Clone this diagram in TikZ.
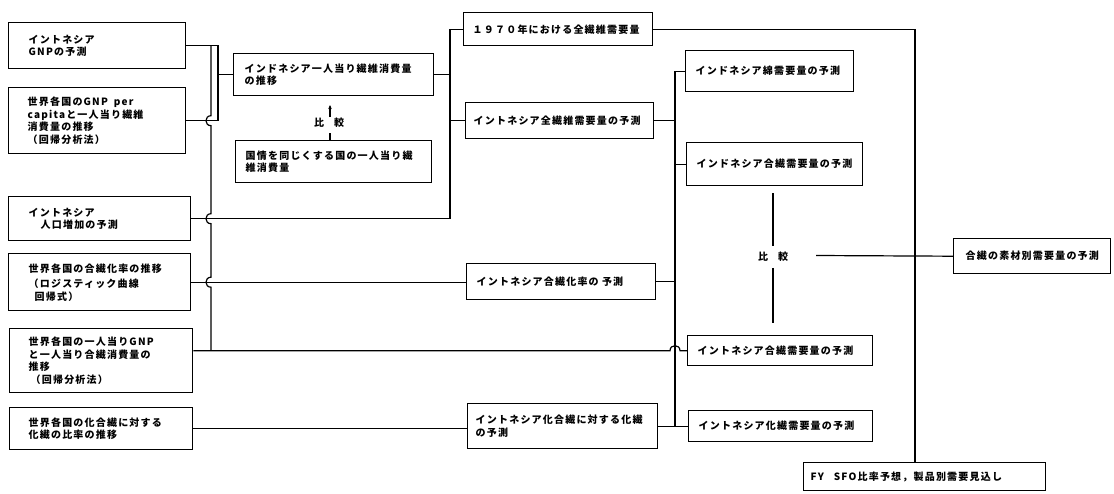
\documentclass[tikz,border=0pt]{standalone}
\usepackage{fontspec}
\setmainfont{Noto Sans CJK JP}[LetterSpace=12]
\usetikzlibrary{arrows.meta}

\tikzset{
  box/.style={draw, line width=1.4pt, anchor=north west, align=left,
    inner ysep=2pt, font=\bfseries\fontsize{10}{12.5}\selectfont},
  wire/.style={line width=1.2pt},
  cmplabel/.style={font=\bfseries\fontsize{10}{11}\selectfont, inner sep=6pt}
}

% box from its top-left (#2,#3) to bottom-right (#4,#5), text inset #6
\newcommand\mkbox[7]{%
  \pgfmathsetmacro\bw{#4-#2}%
  \pgfmathsetmacro\bh{#5-#3}%
  \pgfmathsetmacro\tw{#4-#2-2*#6}%
  \node[box, minimum width=\bw pt, minimum height=\bh pt,
        text width=\tw pt, inner xsep=#6 pt] (#1) at (#2,#3) {#7};}

\begin{document}
\begin{tikzpicture}[x=1pt, y=-1pt]
\useasboundingbox (0,0) rectangle (1114,493);

% ---- input column ----
\mkbox{gnp}{8}{22}{185}{68}{20}{イントネシア\\GNPの予測}
\mkbox{percap}{8}{87}{185}{153}{19}{世界各国のGNP\hspace{6pt}per\\capitaと一人当り繊維\\消費量の推移\\（回帰分析法）}
\mkbox{pop}{8}{196}{190}{240}{20}{イントネシア\\\hspace*{12pt}人口増加の予測}
\mkbox{rate}{8}{253}{190}{310}{20}{世界各国の合繊化率の推移\\[3pt]（ロジスティック曲線\\\hspace*{6pt}回帰式）}
\mkbox{gnpsyn}{9}{328}{192}{392}{19}{世界各国の一人当りGNP\\と一人当り合繊消費量の\\推移\\\hspace*{2pt}（回帰分析法）}
\mkbox{ratio}{9}{407}{192}{449}{19}{世界各国の化合繊に対する\\化繊の比率の推移}

% ---- per-capita consumption ----
\mkbox{percon}{233}{53}{433}{95}{11}{インドネシア一人当り繊維消費量\\の推移}
\mkbox{similar}{235}{140}{431}{182}{10}{国情を同じくする国の一人当り繊\\維消費量}

% ---- total demand and shares ----
\mkbox{y1970}{463}{12}{652}{45}{9}{１９７０年における全繊維需要量}
\mkbox{total}{465}{102}{653}{138}{8}{イントネシア全繊維需要量の予測}
\mkbox{synrate}{466}{263}{655}{299}{10}{イントネシア合繊化率の\ 予測}
\mkbox{rayonshare}{467}{403}{657}{448}{8}{イントネシア化合繊に対する化繊\\の予測}

% ---- demand by fibre ----
\mkbox{cotton}{685}{50}{853}{91}{10}{インドネシア綿需要量の予測}
\mkbox{synA}{686}{142}{862}{185}{10}{インドネシア合繊需要量の予測}
\mkbox{synB}{687}{335}{872}{365}{10}{イントネシア合繊需要量の予測}
\mkbox{rayon}{688}{410}{872}{441}{10}{イントネシア化繊需要量の予測}

% ---- results ----
\mkbox{bymat}{953}{238}{1110}{273}{12}{合繊の素材別需要量の予測}
\mkbox{fy}{803}{462}{1045}{490}{7}{FY\quad SFO比率予想，製品別需要見込し}

% bus positions
\coordinate (jx) at (211,0);
\coordinate (kx) at (218,0);
\coordinate (mx) at (450,0);
\coordinate (rx) at (675,0);
\coordinate (fx) at (915,0);

% crossing points
\coordinate (x1) at (percap.east -| jx);
\coordinate (x2) at (pop.east -| jx);
\coordinate (x3) at (rate.east -| jx);
\coordinate (x4) at (synB.west -| rx);

% GNP forecast and per-capita trend into consumption trend
\draw[wire] (gnp.east) -- (gnp.east -| kx) -- (percap.east -| kx);
\draw[wire] (percap.east) -- (percap.east -| kx);
\draw[wire] (percon.west -| kx) -- (percon.west);

% GNP forecast down to the synthetic-fibre line, hopping over three lines
\draw[wire] (gnp.east -| jx)
  -- ([yshift=5pt]x1) .. controls +(-6.7,0) and +(-6.7,0) .. ([yshift=-5pt]x1)
  -- ([yshift=5pt]x2) .. controls +(-6.7,0) and +(-6.7,0) .. ([yshift=-5pt]x2)
  -- ([yshift=5pt]x3) .. controls +(-6.7,0) and +(-6.7,0) .. ([yshift=-5pt]x3)
  -- (synB.west -| jx);

% population and consumption into total demand
\draw[wire] (pop.east) -- (pop.east -| mx);
\draw[wire] (percon.east) -- (percon.east -| mx);
\draw[wire] (y1970.west -| mx) -- (pop.east -| mx);
\draw[wire] (y1970.west -| mx) -- (y1970.west);
\draw[wire] (total.west -| mx) -- (total.west);

% shares
\draw[wire] (rate.east) -- (rate.east -| synrate.west);
\draw[wire] (ratio.east) -- (ratio.east -| rayonshare.west);

% per-capita GNP method, hopping over the right bus
\draw[wire] (gnpsyn.east |- synB.west)
  -- ([xshift=-5pt]x4) .. controls +(0,-6.7) and +(0,-6.7) .. ([xshift=5pt]x4)
  -- (synB.west);

% right bus to demand by fibre
\draw[wire] (cotton.west -| rx) -- (rayonshare.east -| rx);
\draw[wire] (total.east) -- (total.east -| rx);
\draw[wire] (cotton.west -| rx) -- (cotton.west);
\draw[wire] (synA.west -| rx) -- (synA.west);
\draw[wire] (synrate.east) -- (synrate.east -| rx);
\draw[wire] (rayonshare.east) -- (rayon.west);

% 1970 demand down to the FY box
\draw[wire] (y1970.east) -- (y1970.east -| fx) -- (fy.north -| fx);

% comparison of per-capita consumption
\node[cmplabel] (cmpL) at (329,123) {比\quad 較};
\coordinate (cLa) at (330,117);
\coordinate (cLb) at (330,105);
\coordinate (cLc) at (330,133);
\draw[wire, -{Stealth[length=4pt, width=3.5pt]}] (cLa) -- (cLb);
\draw[wire] (similar.north -| cLc) -- (cLc);

% comparison of the two synthetic-fibre forecasts
\node[cmplabel] (cmpR) at (773,257) {比\quad 較};
\coordinate (cRtop) at (773,193);
\coordinate (cRbot) at (773,323);
\coordinate (cRout) at (816,255.5);
\draw[wire] (cRtop) -- (cmpR.north);
\draw[wire] (cmpR.south) -- (cRbot);
\draw[wire] (cRout) -- (bymat.west);
\end{tikzpicture}
\end{document}
